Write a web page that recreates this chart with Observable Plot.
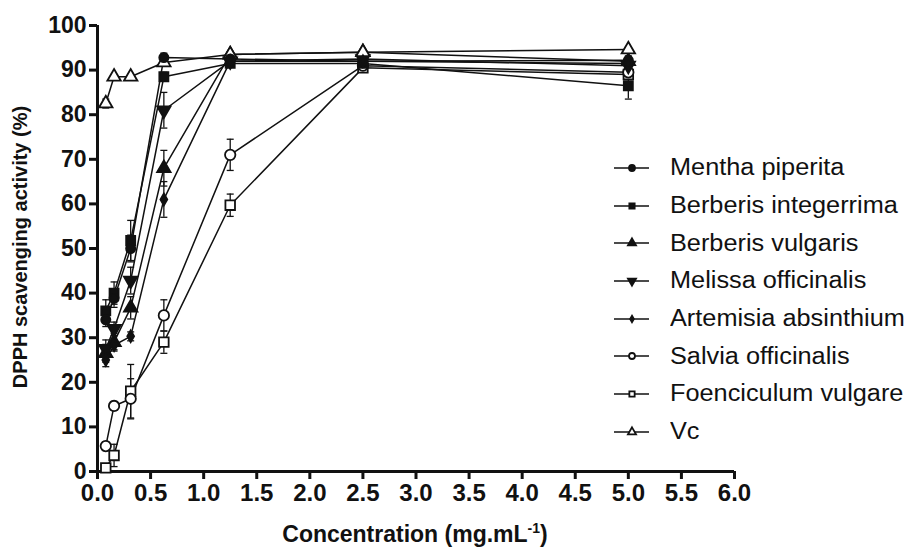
<!DOCTYPE html>
<html>
<head>
<meta charset="utf-8">
<script src="https://cdn.jsdelivr.net/npm/d3@7"></script>
<script src="https://cdn.jsdelivr.net/npm/@observablehq/plot@0.6"></script>
<style>
  html, body { margin: 0; padding: 0; background: #fff; }
  #wrap { position: relative; width: 914px; height: 552px; font-family: "Liberation Sans", Arial, sans-serif; }
  .ttl { position: absolute; font-weight: bold; color: #111; white-space: nowrap; }
  #xt { left: 0; width: 830px; text-align: center; top: 520px; font-size: 23px; }
  #yt { left: 20px; top: 247px; font-size: 20px; transform: translate(-50%, -50%) rotate(-90deg); }
  #legend { position: absolute; left: 608px; top: 149px; }
  .row { display: flex; align-items: center; height: 37.7px; font-size: 23px; color: #111; }
  .row svg { margin-right: 18px; }
  .row span { display: inline-block; transform: scaleX(1.1); transform-origin: left center; }
</style>
</head>
<body>
<div id="wrap">
  <div id="chart"></div>
  <div class="ttl" id="yt">DPPH scavenging activity (%)</div>
  <div class="ttl" id="xt">Concentration (mg.mL<sup style="font-size:14px">-1</sup>)</div>
  <div id="legend"></div>
</div>
<script>
// ---- data ----
const concentrations = [0.078, 0.156, 0.3125, 0.625, 1.25, 2.5, 5];
const seriesNames = ["Mentha piperita", "Berberis integerrima", "Berberis vulgaris", "Melissa officinalis", "Artemisia absinthium", "Salvia officinalis", "Foenciculum vulgare", "Vc"];
const menthaPiperita      = [34.0, 38.8, 50.0, 92.8, 92.5, 92.0, 92.2];
const berberisIntegerrima = [36.0, 40.0, 51.8, 88.5, 91.5, 91.5, 86.5];
const berberisVulgaris    = [26.5, 29.0, 36.7, 68.0, 93.5, 94.0, 92.0];
const melissaOfficinalis  = [27.5, 32.0, 42.8, 81.0, 92.0, 92.5, 91.0];
const artemisiaAbsinthium = [25.0, 28.3, 30.3, 61.0, 92.0, 92.0, 91.5];
const salviaOfficinalis   = [5.7, 14.7, 16.3, 35.0, 71.0, 91.0, 89.5];
const foencicumVulgare    = [0.8, 3.6, 18.0, 29.0, 59.7, 90.5, 89.0];
const vc                  = [82.5, 88.5, 88.5, 91.7, 93.5, 94.0, 94.6];
// error (± SD) estimates
const errMentha    = [1.5, 2.0, 3.0, 1.0, 0.5, 0.5, 1.0];
const errBerbInt   = [2.5, 2.5, 4.5, 1.0, 0.5, 0.5, 3.0];
const errBerbVul   = [2.0, 2.0, 2.5, 4.0, 0.5, 0.5, 1.0];
const errMelissa   = [2.0, 1.5, 3.0, 4.0, 0.5, 0.5, 1.0];
const errArtemisia = [1.5, 1.0, 1.0, 4.0, 0.5, 0.5, 1.0];
const errSalvia    = [1.0, 1.0, 4.5, 3.5, 3.5, 0.5, 1.0];
const errFoen      = [0.5, 2.5, 6.0, 2.5, 2.5, 0.5, 1.0];
const errVc        = [1.0, 0.5, 0.5, 0.5, 0.5, 0.5, 0.5];
const xTicks = [0, 0.5, 1, 1.5, 2, 2.5, 3, 3.5, 4, 4.5, 5, 5.5, 6];
const yTicks = [0, 10, 20, 30, 40, 50, 60, 70, 80, 90, 100];

// ---- styles per series ----
const triDown = {
  draw(context, size) {
    const y = -Math.sqrt(size / (Math.sqrt(3) * 3));
    context.moveTo(0, -y * 2);
    context.lineTo(-Math.sqrt(3) * y, y);
    context.lineTo(Math.sqrt(3) * y, y);
    context.closePath();
  }
};
const hcap = {
  draw(context, size) {
    const w = 3.5;
    context.moveTo(-w, 0);
    context.lineTo(w, 0);
  }
};
const symbols = [d3.symbolCircle, d3.symbolSquare, d3.symbolTriangle, triDown, d3.symbolDiamond, d3.symbolCircle, d3.symbolSquare, d3.symbolTriangle];
const fills = ["#111", "#111", "#111", "#111", "#111", "#fff", "#fff", "#fff"];
const radii = [4.6, 5.1, 5.0, 5.0, 3.6, 5.2, 5.4, 5.0];

const values = [menthaPiperita, berberisIntegerrima, berberisVulgaris, melissaOfficinalis, artemisiaAbsinthium, salviaOfficinalis, foencicumVulgare, vc];
const errors = [errMentha, errBerbInt, errBerbVul, errMelissa, errArtemisia, errSalvia, errFoen, errVc];

const rows = [];
seriesNames.forEach((s, i) => {
  concentrations.forEach((c, j) => {
    rows.push({series: s, idx: i, x: c, y: values[i][j], lo: values[i][j] - errors[i][j], hi: values[i][j] + errors[i][j]});
  });
});

const chart = Plot.plot({
  width: 914,
  height: 552,
  marginLeft: 97,
  marginRight: 180,
  marginTop: 25,
  marginBottom: 81,
  style: {fontFamily: "'Liberation Sans', Arial, sans-serif", color: "#111", background: "transparent"},
  x: {domain: [0, 6], label: null},
  y: {domain: [0, 100], label: null},
  symbol: {type: "identity"},
  r: {type: "identity"},
  marks: [
    Plot.axisX({ticks: xTicks, tickSize: 8, strokeWidth: 3, tickPadding: 4, fontSize: 24, fontWeight: "bold", tickFormat: d3.format(".1f"), label: null}),
    Plot.axisY({ticks: yTicks, tickSize: 8, strokeWidth: 3, tickPadding: 3, fontSize: 23, fontWeight: "bold", label: null}),
    Plot.ruleY([0], {stroke: "#111", strokeWidth: 3}),
    Plot.ruleX([0], {stroke: "#111", strokeWidth: 3}),
    Plot.line(rows, {x: "x", y: "y", z: "series", stroke: "#111", strokeWidth: 1.5}),
    Plot.ruleX(rows, {x: "x", y1: "lo", y2: "hi", stroke: "#111", strokeWidth: 1.3}),
    Plot.dot(rows, {x: "x", y: "hi", symbol: () => hcap, stroke: "#111", strokeWidth: 1.3, fill: "none", r: 3}),
    Plot.dot(rows, {x: "x", y: "lo", symbol: () => hcap, stroke: "#111", strokeWidth: 1.3, fill: "none", r: 3}),
    Plot.dot(rows, {x: "x", y: "y", symbol: d => symbols[d.idx], r: d => radii[d.idx], fill: d => fills[d.idx], stroke: "#111", strokeWidth: 1.8})
  ]
});
document.getElementById("chart").appendChild(chart);

// ---- legend ----
const legend = d3.select("#legend");
seriesNames.forEach((s, i) => {
  const row = legend.append("div").attr("class", "row");
  const svg = row.append("svg").attr("width", 44).attr("height", 20);
  svg.append("line").attr("x1", 6).attr("x2", 41).attr("y1", 10).attr("y2", 10).attr("stroke", "#111").attr("stroke-width", 1.6);
  const size = i === 4 ? 12 : 28;
  svg.append("path").attr("transform", "translate(24,10)")
    .attr("d", d3.symbol(symbols[i], size)())
    .attr("fill", fills[i]).attr("stroke", "#111").attr("stroke-width", 1.8);
  row.append("span").text(s);
});
</script>
</body>
</html>
